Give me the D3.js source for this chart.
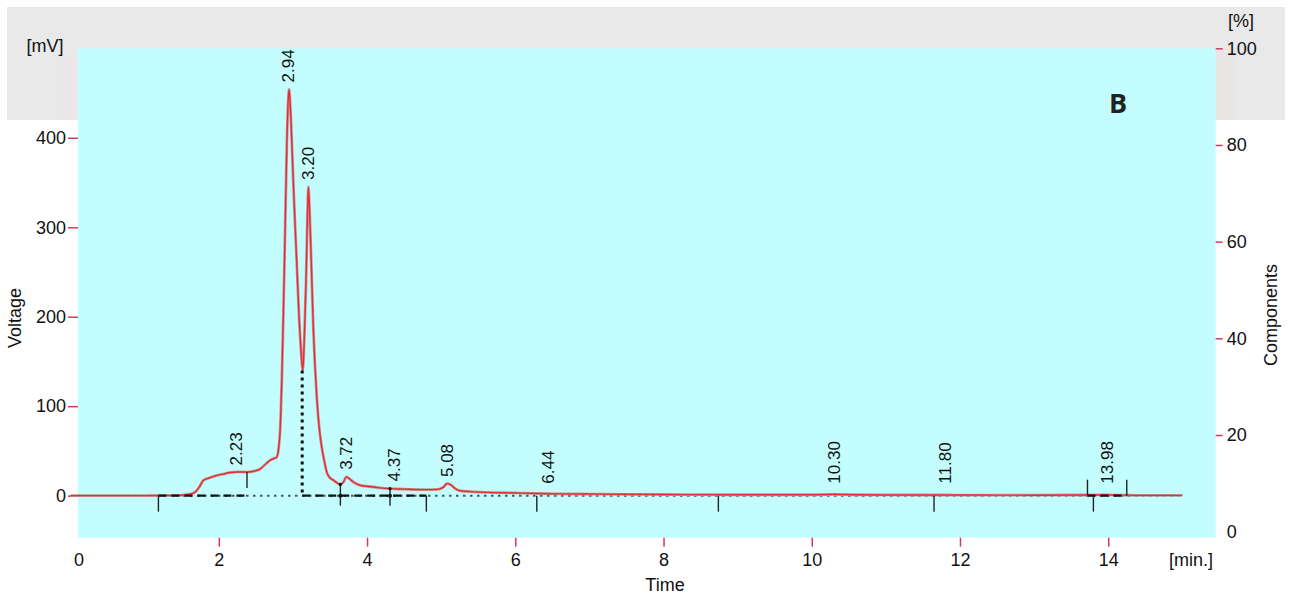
<!DOCTYPE html>
<html>
<head>
<meta charset="utf-8">
<script src="https://cdn.jsdelivr.net/npm/d3@7"></script>
<style>
  body { margin: 0; background: #fff; }
  svg text { font-family: "Liberation Sans", Arial, sans-serif; fill: #111; }
</style>
</head>
<body>
<svg width="1294" height="598"></svg>
<script>
// chromatogram signal [min, mV]
const sigTime = [0, 1.0, 1.45, 1.6, 1.68, 1.74, 1.79, 1.88, 1.97, 2.05, 2.15, 2.25, 2.38, 2.48, 2.56, 2.64, 2.69, 2.74, 2.78,
  2.81, 2.827, 2.85, 2.871, 2.895, 2.917, 2.935, 2.948, 2.965, 2.985, 3.01, 3.052, 3.08, 3.106, 3.133,
  3.155, 3.177, 3.195, 3.208, 3.222, 3.241, 3.276, 3.322, 3.36, 3.389, 3.43, 3.457, 3.5, 3.55, 3.6, 3.64,
  3.68, 3.72, 3.76, 3.82, 3.91, 4.0, 4.15, 4.31, 4.5, 4.8, 4.95, 5.03, 5.08, 5.13, 5.18, 5.25, 5.4, 5.61,
  6.0, 6.29, 6.6, 7.0, 7.41, 8.0, 9.0, 10.0, 10.3, 10.6, 11.0, 11.8, 12.5, 13.0, 13.98, 14.5, 15.0];
const sigValue = [0, 0, 0.3, 1.5, 4, 10, 17, 20, 22.7, 24, 25.8, 26.5, 26.4, 27.5, 30, 36, 39.4, 41.5, 43,
  55, 73, 130, 203, 300, 390, 440, 454, 435, 395, 340, 259, 205, 166, 140,
  180, 240, 310, 345, 325, 278, 185, 110, 72, 54, 36, 26, 20, 17, 14, 12.6,
  15, 21, 19, 15, 11.5, 10.5, 9, 7.8, 7.3, 6.7, 7, 9.5, 13.4, 12, 8.5, 5.5, 4.5, 3.7,
  3, 2.4, 2, 1.8, 1.5, 1.3, 1.0, 1.0, 1.5, 1.0, 0.8, 0.7, 0.6, 0.5, 0.8, 0.3, 0.3];

// peak labels
const peakTimes = [2.23, 2.94, 3.20, 3.72, 4.37, 5.08, 6.44, 10.30, 11.80, 13.98];
const peakHeights = [26, 454, 345, 21, 8, 13, 2.5, 1.5, 1, 1];
const peakLabels = ["2.23", "2.94", "3.20", "3.72", "4.37", "5.08", "6.44", "10.30", "11.80", "13.98"];

// integration baseline
const baseSegments = [[1.185, 2.38], [3.125, 4.80], [13.72, 14.25]];
const boundaryDown = [1.185, 4.80, 6.29, 8.74, 11.65, 13.80];
const boundaryUp = [13.72, 14.25];
const splitTicks = [[2.38, 26.4]];
const dropMarks = [[3.64, 12.6], [4.31, 7.8]];
const valleyDrop = [3.125, 140];

// axes
const xTicks = [2, 4, 6, 8, 10, 12, 14];
const yTicks = [0, 100, 200, 300, 400];
const compTicks = [0, 20, 40, 60, 80, 100];

const svg = d3.select("svg");

const plot = { left: 78, right: 1215.7, top: 48.3, bottom: 537.7 };

const x = d3.scaleLinear().domain([0.1, 15.45]).range([plot.left, plot.right]);
const y = d3.scaleLinear().domain([-47, 500]).range([plot.bottom, plot.top]);
const yComp = d3.scaleLinear().domain([0, 100]).range([531.7, 48.3]);

// background band
svg.append("rect").attr("x", 7).attr("y", 7).attr("width", 1278).attr("height", 113).attr("fill", "#e9e9e9");
svg.append("rect").attr("x", 61).attr("y", 60).attr("width", 17).attr("height", 60).attr("fill", "#ece6ea");
svg.append("rect").attr("x", 1215).attr("y", 48).attr("width", 20).attr("height", 72).attr("fill", "#ebe6e6");

svg.append("rect")
  .attr("x", plot.left).attr("y", plot.top)
  .attr("width", plot.right - plot.left).attr("height", plot.bottom - plot.top)
  .attr("fill", "#c3fdfd");

// axes
const tickColor = "#d23a62";

const gLeft = svg.append("g")
  .attr("transform", `translate(${plot.left},0)`)
  .call(d3.axisLeft(y).tickValues(yTicks).tickSize(10).tickPadding(2));

const gBottom = svg.append("g")
  .attr("transform", `translate(0,${plot.bottom})`)
  .call(d3.axisBottom(x).tickValues(xTicks).tickSize(9).tickPadding(7));

const gRight = svg.append("g")
  .attr("transform", `translate(${plot.right},0)`)
  .call(d3.axisRight(yComp).tickValues(compTicks).tickSize(7).tickPadding(4));

[gLeft, gBottom, gRight].forEach(g => {
  g.select(".domain").remove();
  g.selectAll(".tick line").attr("stroke", tickColor).attr("stroke-width", 1.5);
  g.selectAll(".tick text").attr("font-size", 18).attr("fill", "#111")
    .attr("font-family", "'Liberation Sans', Arial, sans-serif");
});
gRight.selectAll(".tick").filter(d => d === 0).select("line").remove();

svg.append("text").attr("x", plot.left + 1).attr("y", 566).attr("text-anchor", "middle")
  .attr("font-size", 18).text("0");

// titles
svg.append("text").attr("x", 45).attr("y", 52).attr("text-anchor", "middle").attr("font-size", 18).text("[mV]");
svg.append("text").attr("x", 1241).attr("y", 27).attr("text-anchor", "middle").attr("font-size", 18).text("[%]");
svg.append("text").attr("x", 1213).attr("y", 566).attr("text-anchor", "end").attr("font-size", 18).text("[min.]");
svg.append("text").attr("x", 665).attr("y", 591).attr("text-anchor", "middle").attr("font-size", 18).text("Time");
svg.append("text").attr("transform", "translate(21,318) rotate(-90)").attr("text-anchor", "middle")
  .attr("font-size", 18).text("Voltage");
svg.append("text").attr("transform", "translate(1277,315) rotate(-90)").attr("text-anchor", "middle")
  .attr("font-size", 18).text("Components");
svg.append("text").attr("x", 1118).attr("y", 113).attr("text-anchor", "middle")
  .attr("font-size", 27).attr("font-weight", "bold").style("font-family", "'Open Sans', sans-serif")
  .style("fill", "#222").text("B");

// zero projection (dotted)
svg.append("line")
  .attr("x1", x(0.1)).attr("x2", x(15))
  .attr("y1", y(0)).attr("y2", y(0))
  .attr("stroke", "#4a5560")
  .attr("stroke-width", 2)
  .attr("stroke-dasharray", "2.5,4.5");

// signal
const signal = sigTime.map((t, i) => ({ t, v: sigValue[i] }));
const line = d3.line()
  .x(d => x(d.t))
  .y(d => y(d.v))
  .curve(d3.curveMonotoneX);

svg.append("path")
  .datum(signal)
  .attr("fill", "none")
  .attr("stroke", "#c09a9a")
  .attr("stroke-width", 2.8)
  .attr("d", line);

svg.append("path")
  .datum(signal)
  .attr("fill", "none")
  .attr("stroke", "#ec2a35")
  .attr("stroke-width", 1.4)
  .attr("d", line);

// baseline segments
baseSegments.forEach(([a, b]) => {
  svg.append("line")
    .attr("x1", x(a)).attr("x2", x(b))
    .attr("y1", y(0)).attr("y2", y(0))
    .attr("stroke", "#111")
    .attr("stroke-width", 2.4)
    .attr("stroke-dasharray", "8,5");
});

// valley drop line
svg.append("line")
  .attr("x1", x(valleyDrop[0])).attr("x2", x(valleyDrop[0]))
  .attr("y1", y(valleyDrop[1])).attr("y2", y(0))
  .attr("stroke", "#111")
  .attr("stroke-width", 3)
  .attr("stroke-dasharray", "3,4");

// peak boundary ticks
boundaryDown.forEach(t => {
  svg.append("line")
    .attr("x1", x(t)).attr("x2", x(t))
    .attr("y1", y(0)).attr("y2", y(0) + 16)
    .attr("stroke", "#222").attr("stroke-width", 1.4);
});
boundaryUp.forEach(t => {
  svg.append("line")
    .attr("x1", x(t)).attr("x2", x(t))
    .attr("y1", y(0) - 16).attr("y2", y(0))
    .attr("stroke", "#222").attr("stroke-width", 1.4);
});
splitTicks.forEach(([t, v]) => {
  svg.append("line")
    .attr("x1", x(t)).attr("x2", x(t))
    .attr("y1", y(v)).attr("y2", y(v) + 16)
    .attr("stroke", "#222").attr("stroke-width", 1.4);
});
dropMarks.forEach(([t, v]) => {
  svg.append("line")
    .attr("x1", x(t)).attr("x2", x(t))
    .attr("y1", y(v)).attr("y2", y(0) + 10)
    .attr("stroke", "#222").attr("stroke-width", 1.4);
  svg.append("circle").attr("cx", x(t)).attr("cy", y(0)).attr("r", 2).attr("fill", "#111");
  svg.append("circle").attr("cx", x(t)).attr("cy", y(v)).attr("r", 1.6).attr("fill", "#111");
});

// peak labels
peakTimes.forEach((t, i) => {
  const ly = Math.min(y(peakHeights[i]) - 7, y(0) - 12);
  svg.append("text")
    .attr("transform", `translate(${x(t) + 6},${ly}) rotate(-90)`)
    .attr("font-size", 17)
    .text(peakLabels[i]);
});
</script>
</body>
</html>
